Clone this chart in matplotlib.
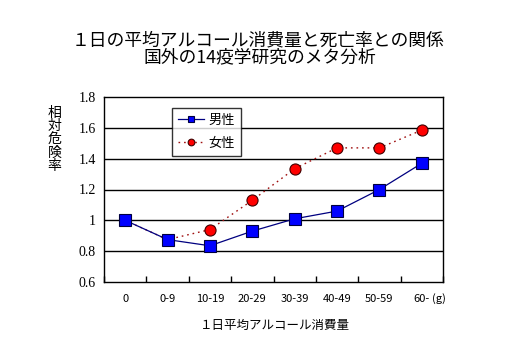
import matplotlib
matplotlib.use("Agg")
import matplotlib.pyplot as plt
import numpy as np

plt.rcParams['font.family'] = ['Noto Sans CJK JP', 'DejaVu Sans']

categories = ["0", "0-9", "10-19", "20-29", "30-39", "40-49", "50-59", "60-"]
male = [1.00, 0.875, 0.835, 0.93, 1.01, 1.06, 1.20, 1.37]
female = [1.00, 0.875, 0.94, 1.13, 1.335, 1.47, 1.47, 1.585]
yticks = [0.6, 0.8, 1.0, 1.2, 1.4, 1.6, 1.8]
ytick_labels = ["0.6", "0.8", "1", "1.2", "1.4", "1.6", "1.8"]

fig = plt.figure(figsize=(5.2, 3.6), dpi=100)
ax = fig.add_axes([104/520, 1-282/360, (443-104)/520, (282-97)/360])

x = np.arange(len(categories))
ax.plot(x, male, color='#000080', lw=0.9, ls='-', marker='s', ms=8,
        mfc='#0000FF', mec='#000040', mew=0.8, label='男性', zorder=4)
ax.plot(x, female, color='#a01010', lw=1.0, ls=(0, (1.2, 2.8)), marker='o', ms=8,
        mfc='#FF0000', mec='#400000', mew=0.8, label='女性', zorder=3)

ax.set_xlim(-0.5, len(categories) - 0.5)
ax.set_ylim(0.6, 1.8)
ax.set_yticks(yticks)
ax.set_yticklabels(ytick_labels, family=['Liberation Serif'], fontsize=10)
for yv in yticks[1:-1]:
    ax.axhline(yv, color='black', lw=1.0, zorder=1)
ax.tick_params(axis='y', length=0, pad=6)

ax.set_xticks(np.arange(len(categories) + 1) - 0.5, minor=False)
ax.set_xticklabels([])
ax.tick_params(axis='x', which='major', direction='in', length=4, width=1, color='black')
ax.set_xticks(x, minor=True)
ax.set_xticklabels(categories, minor=True, fontsize=8)
ax.tick_params(axis='x', which='minor', length=0, pad=9)
ax.text(len(categories) - 0.5 - 0.27, -0.092, "(g)", transform=ax.get_xaxis_transform(),
        ha='left', va='center', fontsize=8)

for s in ax.spines.values():
    s.set_color('black')
    s.set_linewidth(1.0)

leg = ax.legend(loc='upper left', bbox_to_anchor=((172-104)/339, 1-(108-97)/185),
                frameon=True, fancybox=False, edgecolor='black', fontsize=9.5,
                handlelength=2.0, borderpad=0.45, labelspacing=0.75, markerscale=0.6,
                handletextpad=0.3, borderaxespad=0.0)
leg.get_frame().set_linewidth(1.0)

fig.text(258/520, 1-40/360, "１日の平均アルコール消費量と死亡率との関係", ha='center', va='center', fontsize=12.8)
fig.text(260/520, 1-57.5/360, "国外の14疫学研究のメタ分析", ha='center', va='center', fontsize=12.8)
fig.text(54.5/520, 1-139.5/360, "相\n対\n危\n険\n率", ha='center', va='center', fontsize=10, linespacing=0.95)
fig.text(275/520, 1-325/360, "１日平均アルコール消費量", ha='center', va='center', fontsize=9)

fig.savefig("out.png", dpi=100)
